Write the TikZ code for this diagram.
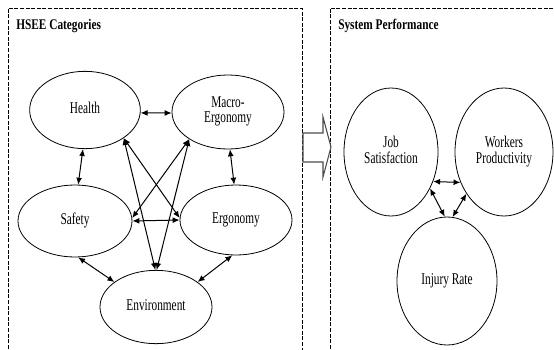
\documentclass[tikz,border=0pt]{standalone}
\usepackage{fontspec}
\setmainfont{Liberation Serif}
\usepackage{tikz}
\usetikzlibrary{shapes.geometric,arrows.meta}
\newcommand{\lbl}[1]{\scalebox{1}[1.45]{\begin{tabular}{@{}c@{}}#1\end{tabular}}}
\newcommand{\ttl}[1]{\scalebox{1}[1.3]{\bfseries #1}}

\begin{document}
\begin{tikzpicture}[x=0.75pt, y=-0.75pt,
  font=\fontsize{8.5}{8}\selectfont,
  cat/.style={ellipse, draw, line width=0.6pt, inner sep=0pt},
  link/.style={<->, >={Latex[length=5.2pt,width=4.4pt]}, line width=0.75pt},
  frame/.style={dash pattern=on 3pt off 1.2pt, line width=0.6pt}]
  \useasboundingbox (0,0) rectangle (554,350);

  \draw[frame] (8,360) -- (8,8) -- (302,8) -- (302,360);
  \draw[frame] (330,360) -- (330,8) -- (560,8);
  \node[anchor=base west, inner sep=0pt] (T1) at (16,29) {\ttl{HSEE Categories}};
  \node[anchor=base west, inner sep=0pt] (T2) at (338,29) {\ttl{System Performance}};

  \node[cat, minimum width=83pt, minimum height=58pt] (H) at (85,110) {\lbl{Health}};
  \node[cat, minimum width=84pt, minimum height=55.5pt] (M) at (228,112) {\lbl{Macro-\\Ergonomy}};
  \node[cat, minimum width=85.5pt, minimum height=54pt] (S) at (75,221) {\lbl{Safety}};
  \node[cat, minimum width=84pt, minimum height=52.5pt] (Er) at (236,220) {\lbl{Ergonomy}};
  \node[cat, minimum width=84pt, minimum height=55pt] (En) at (156,307) {\lbl{Environment}};

  \node[cat, minimum width=70.5pt, minimum height=96pt] (J) at (391,152) {\lbl{Job\\Satisfaction}};
  \node[cat, minimum width=73.5pt, minimum height=96pt] (W) at (504,152) {\lbl{Workers\\Productivity}};
  \node[cat, minimum width=75pt, minimum height=96pt] (I) at (447,281) {\lbl{Injury Rate}};

  \draw[line width=0.8pt, black!70] (303,133) -- (323,133) -- (323,117) -- (331,147)
    -- (323,177) -- (323,162) -- (303,162) -- cycle;

  \draw[link] (H.-3) -- (M.181);
  \draw[link] (H.-93) -- (S.85);
  \draw[link] (M.-87) -- (Er.93);
  \draw[link] (S.east) -- (Er.west);
  \draw[link] (S.-85) -- (En.149);
  \draw[link] (Er.-96) -- (En.31);
  \draw[link] (H.-36) -- (En.91);
  \draw[link] (H.-36) -- (Er.178);
  \draw[link] (M.215) -- (S.3);
  \draw[link] (M.215) -- (En.89);

  \draw[link] (J.-35) -- (W.215);
  \draw[link] (J.-43) -- (I.92);
  \draw[link] (W.228) -- (I.85);
\end{tikzpicture}
\end{document}
